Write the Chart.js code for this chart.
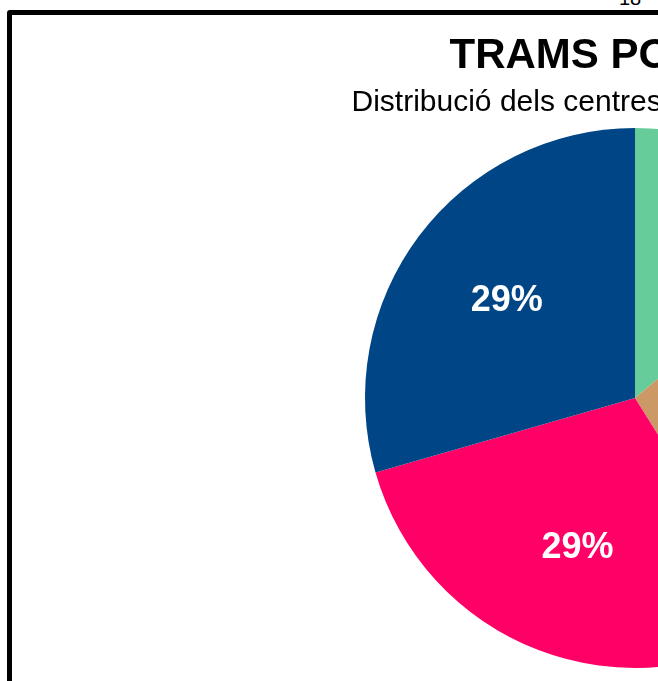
<!DOCTYPE html>
<html>
<head>
<meta charset="utf-8">
<script src="https://cdn.jsdelivr.net/npm/chart.js@4.4.1/dist/chart.umd.min.js"></script>
<style>
  html, body { margin: 0; padding: 0; background: #fff; overflow: hidden; width: 658px; height: 681px; }
  #pageNum { position: absolute; left: 619px; top: -13px; font: 20px/23px "Liberation Sans", Arial, sans-serif; color: #000; }
  #box { position: absolute; left: 7px; top: 10px; width: 1270px; height: 700px; border: 5px solid #000; border-radius: 3px; background: #fff; }
  #box canvas { display: block; }
</style>
</head>
<body>
<div id="pageNum">18</div>
<div id="box"><canvas id="piePoblacio" width="1270" height="666"></canvas></div>
<script>
// Dades del gràfic (percentatges llegits de la imatge)
const categories = ['Tram 1', 'Tram 2', 'Tram 3', 'Tram 4'];
const values = [13.9, 27.2, 29.45, 29.45];
const colors = ['#66CC99', '#CC9966', '#FF0066', '#004586'];
const titleText = ' TRAMS POBLACIÓ';
const subtitleText = 'Distribució dels centres segons la població';

// etiquetes de percentatge dins de cada porció
const pctLabels = {
    id: 'pctLabels',
    afterDatasetsDraw(chart) {
        const ctx = chart.ctx;
        const data = chart.data.datasets[0].data;
        const total = data.reduce((a, b) => a + b, 0);
        chart.getDatasetMeta(0).data.forEach((arc, i) => {
            const mid = (arc.startAngle + arc.endAngle) / 2;
            const r = arc.outerRadius * 0.595;
            const x = arc.x + Math.cos(mid) * r;
            const y = arc.y + Math.sin(mid) * r;
            ctx.save();
            ctx.fillStyle = '#fff';
            ctx.font = 'bold 36px "Liberation Sans", Arial, sans-serif';
            ctx.textAlign = 'center';
            ctx.textBaseline = 'middle';
            ctx.fillText(Math.round(data[i] / total * 100) + '%', x, y);
            ctx.restore();
        });
    }
};

new Chart(document.getElementById('piePoblacio'), {
    type: 'pie',
    data: {
        labels: categories,
        datasets: [{ data: values, backgroundColor: colors, borderWidth: 0 }]
    },
    options: {
        responsive: false,
        animation: false,
        layout: { padding: { top: 0, right: 24, bottom: 13, left: 0 } },
        plugins: {
            legend: { display: false },
            tooltip: { enabled: false },
            title: {
                display: true,
                text: titleText,
                color: '#000',
                font: { family: '"Liberation Sans", Arial, sans-serif', size: 42, weight: 'bold', lineHeight: 1.2 },
                padding: { top: 16, bottom: 5 }
            },
            subtitle: {
                display: true,
                text: subtitleText,
                color: '#000',
                font: { family: '"Liberation Sans", Arial, sans-serif', size: 30, weight: 'normal', lineHeight: 1.12 },
                padding: { top: 0, bottom: 8 }
            }
        }
    },
    plugins: [pctLabels]
});
</script>
</body>
</html>
